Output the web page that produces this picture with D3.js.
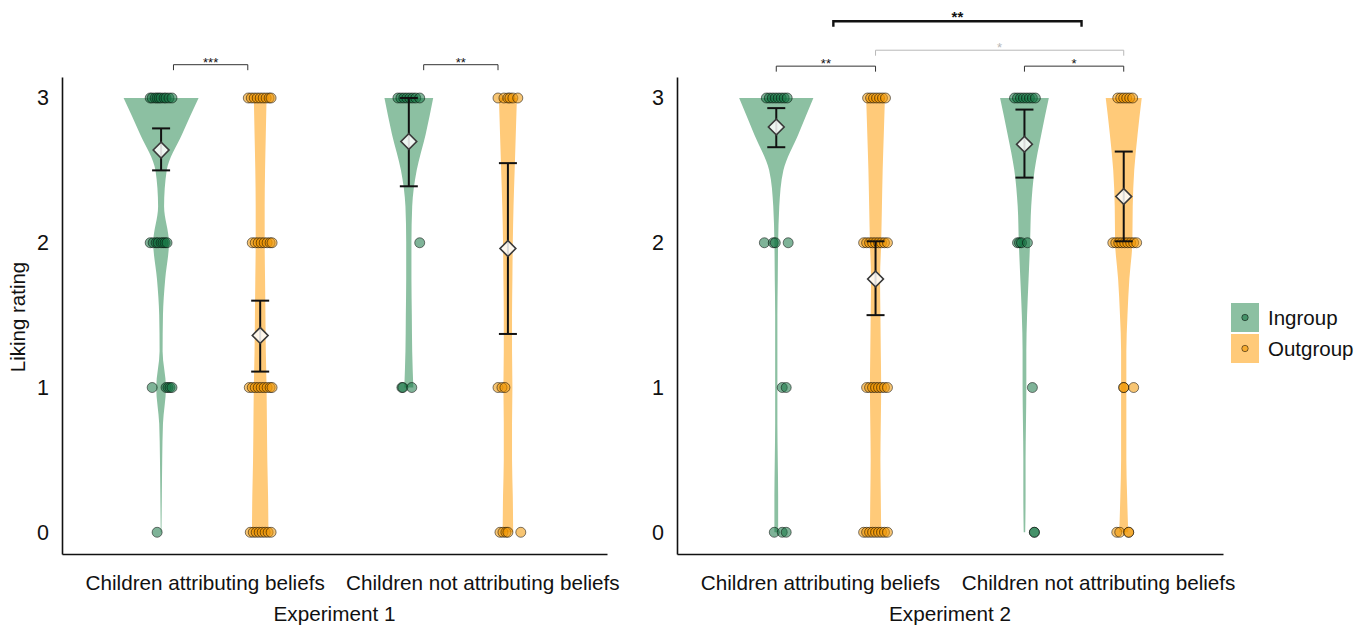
<!DOCTYPE html>
<html>
<head>
<meta charset="utf-8">
<script src="https://cdn.jsdelivr.net/npm/d3@7"></script>
<style>
  body { margin: 0; background: #fff; }
  text { font-family: "Liberation Sans", Arial, Helvetica, sans-serif; }
</style>
</head>
<body>
<svg id="chart" width="1368" height="627"></svg>
<script>
// Categories and groups
var categories = ["Children attributing beliefs", "Children not attributing beliefs"];
var groups = ["Ingroup", "Outgroup"];
var experiments = ["Experiment 1", "Experiment 2"];
var yTicks = [0, 1, 2, 3];

var densityLevels = [0, 0.25, 0.5, 0.75, 1, 1.25, 1.5, 1.75, 2, 2.25, 2.5, 2.75, 3];

// Relative violin density, [category][group][level]
var densityE1 = [
  [[0.01, 0.02, 0.03, 0.05, 0.13, 0.04, 0.05, 0.11, 0.21, 0.08, 0.15, 0.56, 1.00],
   [0.22, 0.21, 0.19, 0.18, 0.17, 0.15, 0.14, 0.13, 0.12, 0.12, 0.13, 0.15, 0.17]],
  [[null, null, null, null, 0.12, 0.09, 0.08, 0.07, 0.07, 0.09, 0.21, 0.45, 0.65],
   [0.14, 0.13, 0.11, 0.11, 0.12, 0.11, 0.11, 0.12, 0.13, 0.15, 0.18, 0.21, 0.24]]
];
var densityE2 = [
  [[0.05, 0.05, 0.04, 0.03, 0.03, 0.03, 0.03, 0.04, 0.05, 0.08, 0.19, 0.59, 0.99],
   [0.15, 0.14, 0.13, 0.14, 0.15, 0.14, 0.13, 0.12, 0.15, 0.17, 0.19, 0.22, 0.25]],
  [[0.02, 0.03, 0.03, 0.04, 0.05, 0.05, 0.07, 0.11, 0.15, 0.18, 0.27, 0.45, 0.65],
   [0.12, 0.09, 0.07, 0.07, 0.07, 0.07, 0.10, 0.15, 0.23, 0.24, 0.28, 0.37, 0.48]]
];

// Means and confidence intervals, [category][group]
var meanE1 = [[2.64, 1.36], [2.70, 1.96]];
var ciLowE1 = [[2.50, 1.11], [2.39, 1.37]];
var ciHighE1 = [[2.79, 1.60], [3.00, 2.55]];
var meanE2 = [[2.80, 1.75], [2.68, 2.32]];
var ciLowE2 = [[2.66, 1.50], [2.45, 2.01]];
var ciHighE2 = [[2.93, 2.01], [2.92, 2.63]];

// Individual ratings: horizontal jitter (x units) of each child, [category][group][rating 0..3]
var pointsE1 = [
  [[[-0.016],
    [-0.036, 0.020, 0.028, 0.036, 0.044],
    [-0.044, -0.032, -0.020, -0.012, 0, 0.008, 0.016, 0.024],
    [-0.044, -0.036, -0.024, -0.016, -0.008, 0, 0.012, 0.020, 0.032, 0.044]],
   [[-0.040, -0.028, -0.016, -0.004, 0.008, 0.020, 0.032, 0.044],
    [-0.044, -0.032, -0.020, -0.008, 0.004, 0.016, 0.028, 0.040, 0.048],
    [-0.032, -0.020, -0.008, 0.004, 0.016, 0.028, 0.040, 0.048],
    [-0.048, -0.036, -0.024, -0.012, 0, 0.012, 0.024, 0.036, 0.044]]],
  [[[],
    [-0.028, -0.024, 0.012],
    [0.044],
    [-0.044, -0.032, -0.020, -0.008, 0.004, 0.016, 0.028, 0.044]],
   [[-0.032, -0.020, -0.008, 0, 0.052],
    [-0.040, -0.024, -0.012],
    [],
    [-0.040, -0.016, 0, 0.008, 0.020, 0.040]]]
];
var pointsE2 = [
  [[[-0.008, 0.024, 0.040],
    [0.024, 0.040],
    [-0.048, -0.012, -0.004, 0.048],
    [-0.040, -0.028, -0.016, -0.004, 0.008, 0.020, 0.032, 0.044]],
   [[-0.048, -0.036, -0.024, -0.012, 0, 0.012, 0.024, 0.036, 0.048],
    [-0.036, -0.024, -0.012, 0, 0.012, 0.024, 0.036, 0.048],
    [-0.048, -0.036, -0.024, -0.012, 0, 0.012, 0.024, 0.036, 0.048],
    [-0.032, -0.020, -0.008, 0.004, 0.016, 0.028, 0.040]]],
  [[[0.040, 0.040],
    [0.032],
    [-0.028, -0.020, -0.012, 0.012],
    [-0.040, -0.028, -0.016, -0.004, 0.008, 0.020, 0.032, 0.044]],
   [[-0.028, -0.016, 0.020, 0.020],
    [0, 0, 0.040],
    [-0.044, -0.032, -0.020, -0.008, 0.004, 0.016, 0.028, 0.040, 0.052],
    [-0.024, -0.012, 0, 0.012, 0.024, 0.036]]]
];

// Significance brackets: from/to on the x axis, level on the rating axis
var bracketsE1 = [
  {from: 0.85, to: 1.15, level: 3.23, label: "***", kind: "plain"},
  {from: 1.86, to: 2.16, level: 3.23, label: "**", kind: "plain"}
];
var bracketsE2 = [
  {from: 0.80, to: 1.20, level: 3.22, label: "**", kind: "plain"},
  {from: 1.80, to: 2.20, level: 3.22, label: "*", kind: "plain"},
  {from: 1.20, to: 2.20, level: 3.33, label: "*", kind: "faded"},
  {from: 1.03, to: 2.03, level: 3.53, label: "**", kind: "strong"}
];

// Styles
var violinFill = {Ingroup: "#8cc0a2", Outgroup: "#ffca79"};
var pointFill = {Ingroup: "#157543", Outgroup: "#f09600"};
var bracketStyle = {
  plain: {stroke: "#333", width: 1, font: 13, weight: "normal"},
  faded: {stroke: "#b8b8b8", width: 1, font: 13, weight: "normal"},
  strong: {stroke: "#111", width: 2.4, font: 15, weight: "bold"}
};
var dodge = 0.2;
var labelNudge = [-6, 24];

var svg = d3.select("#chart");

//Rating scale shared by both panels
var y = d3.scaleLinear().domain([-0.15, 3.145]).range([554, 77]);
//Density to half width of a violin
var halfWidth = d3.scaleLinear().domain([0, 1]).range([0, 37.5]);

var panels = [
  {name: experiments[0], left: 62, right: 607, density: densityE1, mean: meanE1,
   lo: ciLowE1, hi: ciHighE1, points: pointsE1, brackets: bracketsE1},
  {name: experiments[1], left: 677, right: 1223, density: densityE2, mean: meanE2,
   lo: ciLowE2, hi: ciHighE2, points: pointsE2, brackets: bracketsE2}
];

panels.forEach(function(p) {
  var x = d3.scaleLinear().domain([0.4, 2.6]).range([p.left, p.right]);
  var g = svg.append("g");

  //Y axis
  var yAxis = g.append("g")
    .attr("transform", "translate(" + p.left + ",0)")
    .call(d3.axisLeft(y).tickValues(yTicks).tickFormat(d3.format("d"))
      .tickSize(0).tickSizeOuter(0).tickPadding(13));
  yAxis.select(".domain").attr("stroke", "#111").attr("stroke-width", 1.6);
  yAxis.selectAll("text").attr("font-size", 21.5).attr("fill", "#111")
    .style("font-family", '"Liberation Sans", Arial, sans-serif');

  //X axis
  var xAxis = g.append("g")
    .attr("transform", "translate(0," + y.range()[0] + ")")
    .call(d3.axisBottom(x).tickValues([1, 2]).tickFormat(function(d) { return categories[d - 1]; })
      .tickSize(0).tickSizeOuter(0).tickPadding(21));
  xAxis.select(".domain").attr("stroke", "#111").attr("stroke-width", 1.6);
  xAxis.selectAll("text").attr("font-size", 20.7).attr("fill", "#111")
    .attr("dx", function(d) { return labelNudge[d - 1]; })
    .style("font-family", '"Liberation Sans", Arial, sans-serif');

  //Experiment title
  g.append("text")
    .attr("x", (p.left + p.right) / 2)
    .attr("y", 621)
    .attr("text-anchor", "middle")
    .attr("font-size", 20.7)
    .attr("fill", "#111")
    .text(p.name);

  categories.forEach(function(cat, ci) {
    groups.forEach(function(grp, gi) {
      var cx = x(ci + 1 + (gi === 0 ? -dodge : dodge));
      var data = densityLevels.map(function(v, k) { return {v: v, d: p.density[ci][gi][k]}; })
        .filter(function(d) { return d.d != null; });

      //Violin
      var area = d3.area()
        .curve(d3.curveMonotoneY)
        .y(function(d) { return y(d.v); })
        .x0(function(d) { return cx - halfWidth(d.d); })
        .x1(function(d) { return cx + halfWidth(d.d); });
      g.append("path")
        .datum(data)
        .attr("d", area)
        .attr("fill", violinFill[grp]);

      //Jittered points
      p.points[ci][gi].forEach(function(jitters, rating) {
        jitters.forEach(function(j) {
          g.append("circle")
            .attr("cx", x(ci + 1 + (gi === 0 ? -dodge : dodge) + j))
            .attr("cy", y(rating))
            .attr("r", 5)
            .attr("fill", pointFill[grp])
            .attr("fill-opacity", 0.55)
            .attr("stroke", "#000")
            .attr("stroke-opacity", 0.5)
            .attr("stroke-width", 1);
        });
      });
    });
  });

  //Error bars and means on top
  categories.forEach(function(cat, ci) {
    groups.forEach(function(grp, gi) {
      var cx = x(ci + 1 + (gi === 0 ? -dodge : dodge));
      var lo = y(p.lo[ci][gi]), hi = y(p.hi[ci][gi]);
      g.append("line").attr("x1", cx).attr("x2", cx).attr("y1", lo).attr("y2", hi)
        .attr("stroke", "#111").attr("stroke-width", 2);
      [lo, hi].forEach(function(yy) {
        g.append("line").attr("x1", cx - 9).attr("x2", cx + 9).attr("y1", yy).attr("y2", yy)
          .attr("stroke", "#111").attr("stroke-width", 2);
      });
      g.append("path")
        .attr("d", d3.symbol(d3.symbolSquare, 125)())
        .attr("transform", "translate(" + cx + "," + y(p.mean[ci][gi]) + ") rotate(45)")
        .attr("fill", "#fff")
        .attr("fill-opacity", 0.85)
        .attr("stroke", "#3a3a3a")
        .attr("stroke-width", 1.6);
    });
  });

  //Significance brackets
  p.brackets.forEach(function(b) {
    var s = bracketStyle[b.kind];
    var by = y(b.level);
    g.append("path")
      .attr("d", "M" + x(b.from) + "," + (by + 5.5) + "V" + by + "H" + x(b.to) + "V" + (by + 5.5))
      .attr("fill", "none")
      .attr("stroke", s.stroke)
      .attr("stroke-width", s.width);
    g.append("text")
      .attr("x", (x(b.from) + x(b.to)) / 2)
      .attr("y", by + (b.kind === "strong" ? 1 : 2))
      .attr("text-anchor", "middle")
      .attr("font-size", s.font)
      .attr("font-weight", s.weight)
      .attr("fill", b.kind === "faded" ? "#b8b8b8" : "#111")
      .text(b.label);
  });
});

//Y axis title
svg.append("text")
  .attr("transform", "translate(25,317) rotate(-90)")
  .attr("text-anchor", "middle")
  .attr("font-size", 20.5)
  .attr("fill", "#111")
  .text("Liking rating");

//Legend
var legend = svg.append("g").attr("transform", "translate(1231,303)");
groups.forEach(function(grp, i) {
  var row = legend.append("g").attr("transform", "translate(0," + (i * 31) + ")");
  row.append("rect").attr("width", 28).attr("height", 29).attr("fill", violinFill[grp]);
  row.append("circle").attr("cx", 14).attr("cy", 14.5).attr("r", 3.2)
    .attr("fill", pointFill[grp]).attr("fill-opacity", 0.6)
    .attr("stroke", "#000").attr("stroke-opacity", 0.5);
  row.append("text").attr("x", 37).attr("y", 22).attr("font-size", 20.5).attr("fill", "#111").text(grp);
});
</script>
</body>
</html>
